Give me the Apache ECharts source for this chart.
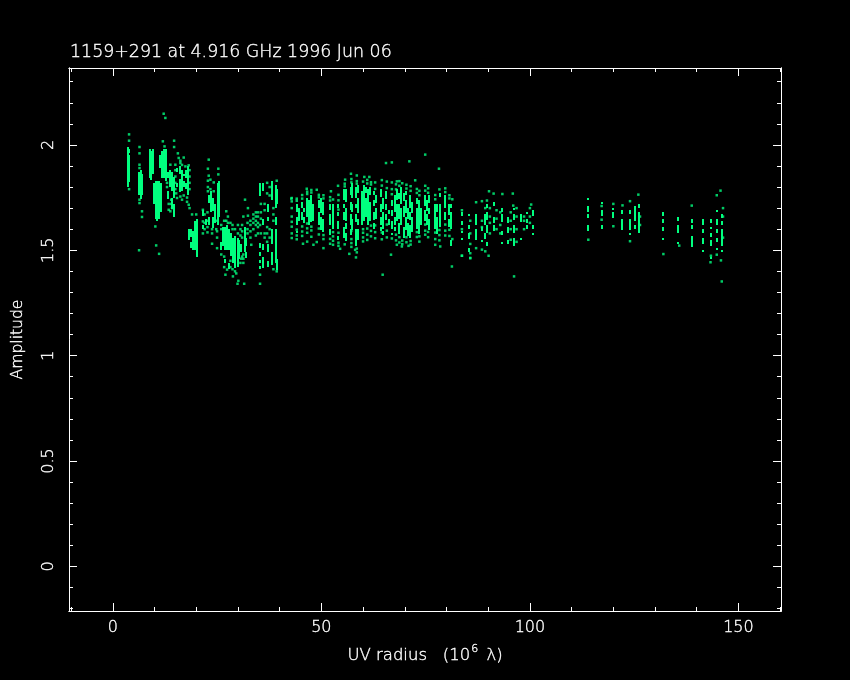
<!DOCTYPE html>
<html><head><meta charset="utf-8">
<style>html,body{margin:0;background:#000}#c{width:850px;height:680px}</style>
<script src="https://cdn.jsdelivr.net/npm/echarts@6/dist/echarts.min.js"></script>
</head><body><div id="c"></div>
<script>
const titleText = '1159+291 at 4.916 GHz 1996 Jun 06';
const xMajor = [0,50,100,150];
const xMinor = [-10,10,20,30,40,60,70,80,90,110,120,130,140,160];
const yMajor = [0,0.5,1,1.5,2];
const yMinor = [-0.2,-0.1,0.1,0.2,0.3,0.4,0.6,0.7,0.8,0.9,1.1,1.2,1.3,1.4,1.6,1.7,1.8,1.9,2.1,2.2,2.3];

// dense vertical streaks of samples: [uv radius, low, high, low, high, ...]
const tracksShort = [
[3.7,1.80,1.99],[4.0,1.82,1.95,1.96,1.98],
[6.3,1.76,1.87],[6.7,1.74,1.88],[7.0,1.76,1.86],
[8.8,1.84,1.98],[9.2,1.83,1.97],[9.6,1.86,1.98],
[9.9,1.72,1.82],[10.3,1.65,1.83],[10.7,1.64,1.83],[11.1,1.65,1.83],[11.5,1.68,1.82],
[11.4,1.89,1.95],[11.9,1.84,1.97],[12.3,1.84,1.98],[12.7,1.83,1.98],
[13.3,1.74,1.78,1.84,1.87],[13.8,1.80,1.88],[14.3,1.70,1.75,1.78,1.87],[14.7,1.66,1.72,1.75,1.85],
[15.5,1.80,1.82,1.87,1.89],[16,1.78,1.84,1.86,1.90],[16.5,1.78,1.88],[17,1.80,1.83,1.85,1.86],[17.5,1.79,1.82,1.84,1.88],[18,1.76,1.90],
[18.2,1.55,1.60],[18.7,1.51,1.54,1.56,1.60],[19.2,1.50,1.59],[19.7,1.50,1.64],[20.1,1.47,1.65],
[21.7,1.60,1.62,1.66,1.69],[22.4,1.62,1.65],
[23.1,1.62,1.66,1.72,1.76],[23.6,1.68,1.78],[24.1,1.61,1.66,1.69,1.75],[24.6,1.63,1.72],[25.2,1.62,1.82],[25.5,1.66,1.83],
[25.9,1.50,1.54],[26.4,1.52,1.61],[26.9,1.50,1.61,1.44,1.46],[27.4,1.50,1.62],[27.9,1.50,1.60,1.41,1.44],
[28.4,1.47,1.58],[28.9,1.44,1.56],[29.4,1.42,1.57],[29.9,1.42,1.56],[30.3,1.46,1.55],[30.8,1.49,1.53],
[31.6,1.49,1.61],[32,1.46,1.49,1.52,1.56],
[35.3,1.76,1.82,1.51,1.535,1.47,1.49,1.44,1.455,1.41,1.425],
[36.1,1.78,1.82,1.62,1.65,1.50,1.53,1.42,1.47],
[37.3,1.64,1.66,1.68,1.72,1.49,1.53,1.42,1.45],
[38.1,1.74,1.83,1.53,1.60,1.43,1.49],
[39.1,1.62,1.66,1.70,1.81,1.44,1.60],[39.4,1.72,1.79,1.41,1.46]
];
const tracksMiddle = [
[44.1,1.62,1.66,1.68,1.72,1.58,1.59],[44.6,1.64,1.70],[45.4,1.64,1.68,1.70,1.73],[45.9,1.63,1.66,1.68,1.70],
[46.6,1.66,1.75],[47.1,1.62,1.74],[47.6,1.63,1.76],[48.1,1.64,1.72],
[49.4,1.62,1.68,1.70,1.74],[49.9,1.60,1.66,1.68,1.75],[50.5,1.59,1.65,1.67,1.73],
[52.1,1.62,1.67,1.69,1.72,1.57,1.60],[52.8,1.60,1.72],[54.1,1.66,1.68,1.60,1.64,1.55,1.57,1.70,1.72],
[55.4,1.64,1.68,1.70,1.72,1.74,1.79,1.56,1.61],[55.8,1.54,1.58,1.60,1.63,1.64,1.70,1.73,1.79],
[57,1.62,1.67,1.69,1.73,1.76,1.80,1.57,1.60],[57.4,1.60,1.65,1.68,1.72,1.75,1.82],
[58.3,1.63,1.67,1.70,1.72,1.75,1.80,1.52,1.60],[58.8,1.55,1.60,1.62,1.65,1.68,1.75,1.77,1.81],
[59.7,1.62,1.78],[60.2,1.64,1.81],[60.7,1.66,1.75,1.77,1.80],[61.2,1.62,1.79],[61.7,1.64,1.73,1.76,1.80],
[62.6,1.60,1.63,1.64,1.68,1.71,1.74,1.76,1.78],[63.1,1.65,1.70,1.72,1.76],[64.3,1.59,1.61,1.62,1.66,1.68,1.72,1.75,1.79],[64.8,1.60,1.68,1.70,1.75,1.57,1.59],
[65.6,1.64,1.67,1.69,1.72,1.74,1.78],[66.1,1.62,1.65,1.67,1.69],[66.9,1.60,1.64,1.66,1.69,1.71,1.74,1.57,1.58],
[67.7,1.59,1.61,1.62,1.66,1.68,1.76],[68.2,1.64,1.72,1.74,1.79],[68.7,1.58,1.63,1.65,1.72,1.74,1.77],[69.2,1.62,1.70,1.72,1.80],[69.7,1.66,1.71,1.73,1.77,1.56,1.61],
[70.2,1.60,1.66,1.68,1.74,1.76,1.78],[70.7,1.57,1.63,1.65,1.70],[71.2,1.56,1.62,1.64,1.68,1.70,1.76],[71.7,1.59,1.66,1.68,1.73],
[72.9,1.60,1.70,1.72,1.75],[73.4,1.58,1.74],[73.8,1.62,1.70],[74.9,1.64,1.69,1.71,1.76],[75.3,1.62,1.67,1.69,1.74],[75.7,1.60,1.65,1.67,1.70,1.72,1.76],
[77.3,1.60,1.72],[77.8,1.58,1.66,1.68,1.72],[78.4,1.61,1.72,1.75,1.77],
[79.7,1.64,1.68,1.70,1.76],[80.6,1.61,1.65,1.67,1.72],[81,1.52,1.55,1.60,1.68,1.70,1.72]
];
const tracksLong = [
[83.7,1.66,1.68,1.62,1.64,1.58,1.59,1.55,1.56],
[85.5,1.66,1.67,1.60,1.62,1.55,1.58,1.49,1.51],
[87.1,1.55,1.60,1.62,1.67],[88.5,1.59,1.61,1.54,1.55],[89.3,1.62,1.67,1.55,1.58],
[89.8,1.58,1.62,1.64,1.68,1.70,1.72,1.52,1.54],[91.5,1.59,1.62,1.63,1.66,1.71,1.73],
[93.4,1.63,1.67,1.68,1.70,1.57,1.59,1.53,1.54],[94.7,1.58,1.61,1.63,1.66,1.53,1.55],
[96.3,1.52,1.56,1.58,1.62,1.64,1.67,1.69,1.70],[97.9,1.63,1.67,1.55,1.56],[99.2,1.60,1.62,1.63,1.65,1.67,1.68],
[100.8,1.66,1.69,1.60,1.62,1.57,1.58],
[114,1.65,1.67,1.68,1.71,1.59,1.62,1.74,1.75],[117.2,1.66,1.69,1.60,1.62,1.72,1.73],
[120,1.65,1.68,1.69,1.70],[122.2,1.60,1.65,1.67,1.69],[124,1.60,1.65,1.57,1.58,1.67,1.69],
[125.2,1.64,1.71,1.60,1.62],[126.2,1.58,1.68,1.70,1.72],
[131.8,1.66,1.68,1.59,1.61,1.63,1.65,1.55,1.56],[135.6,1.58,1.62,1.64,1.66,1.53,1.54],
[138.8,1.52,1.57,1.60,1.62,1.63,1.65],[141.4,1.49,1.50,1.53,1.56,1.58,1.60,1.62,1.65],
[143.3,1.46,1.47,1.52,1.55,1.56,1.58,1.60,1.61,1.63,1.65],[144.8,1.50,1.51,1.54,1.56,1.58,1.60,1.62,1.65,1.68,1.69],
[146,1.52,1.60,1.62,1.64,1.65,1.67,1.49,1.50]
];
// individual samples: [uv radius, amplitude, amplitude, ...]
const dotsShort = [
[3.9,2.05,2.02,1.79],[6.4,1.99,1.96,1.906,1.89,1.74,1.724],[7,1.685,1.658],[6.3,1.50],
[10.2,1.613],[10.4,1.523],[11.1,1.483],[12.2,2.148],[12.6,2.128],[12,2.017],[12.4,1.993],
[14.7,2.02,1.99],[15.6,1.96],[17,1.94,1.76],[15.8,1.938],[13.8,1.906,1.685],[15,1.906,1.88,1.85,1.82,1.79],[16.2,1.914],[17.4,1.898],[18.2,1.903,1.716],
[15.4,1.748],[16.2,1.755,1.925],[16.6,1.74,1.905],[18.4,1.70],[13.4,1.692,1.72],[14.2,1.70],[19,1.67],[20,1.67],[13,1.80,1.82],[14,1.74,1.72],[15.2,1.77],[17.8,1.75,1.73],[18.4,1.88,1.85,1.82,1.79],
[23,1.93,1.854],[22.8,1.887,1.83,1.80,1.78],[25.3,1.887,1.86],[23.4,1.835,1.79],[24.2,1.822,1.78],[21.6,1.692,1.637,1.58],[23.8,1.531,1.60,1.58],[25,1.51,1.56,1.59],
[22,1.67,1.63,1.60],[22.7,1.68,1.64,1.61,1.585],[24.8,1.60,1.64],
[27.2,1.685,1.64],[27.6,1.66,1.63],[26,1.60,1.62,1.48],[26.7,1.64,1.47,1.42],[28.2,1.63,1.45,1.42],[28.7,1.62,1.60,1.41],[29.3,1.60,1.40],[30,1.58,1.62],[30.6,1.60,1.57,1.44],[31,1.62,1.59,1.56,1.47],[30.8,1.46],[31.3,1.44,1.46,1.48,1.66],
[31.7,1.74],[32.4,1.70,1.664],[33.2,1.526],[35.3,1.384,1.341,1.62],[29.9,1.341],[30.1,1.355],[31.5,1.341],[28.8,1.376],[27,1.384],[27.4,1.408],[29.6,1.39],
[32.3,1.63,1.60,1.58],[33,1.64,1.62,1.59,1.56],[33.7,1.67,1.65,1.63,1.60],[34.3,1.68,1.66,1.64,1.62,1.57],[34.8,1.68,1.66,1.63,1.61,1.58],
[35.5,1.72,1.68,1.65,1.58],[36.4,1.72,1.69,1.58,1.56],[37,1.82,1.77,1.61,1.58,1.54],[37.6,1.80,1.76,1.60,1.56],[38.5,1.70,1.67,1.64,1.41],[39.3,1.83,1.40]
];
const dotsMiddle = [
[42.9,1.748,1.732,1.70,1.66,1.635,1.612,1.58,1.558],[44.1,1.745,1.735,1.598,1.57,1.552],
[74.9,1.954],[71.1,1.922],[65.5,1.914],[66.9,1.917],[78.2,1.887],[57.1,1.863],[58.5,1.855],[55.7,1.835],[72.5,1.832],[68.1,1.827,1.526],
[54,1.806],[60.3,1.848],[61.5,1.848],[46.5,1.792],[48.9,1.787,1.539],[52.3,1.78],[42.8,1.745],
[64.7,1.384],[66.7,1.479],[81.3,1.423],[58.3,1.466],[56.7,1.483],[58.1,1.502],[54.5,1.507],[50.5,1.51],[48.1,1.526],[45.6,1.531],
[69.3,1.518],[70.9,1.521],[77.3,1.526],[78.5,1.518],[83.7,1.474],[85.7,1.463,1.486],[87.1,1.51],
[45.4,1.762,1.745,1.613,1.589,1.568],[46.6,1.778,1.767,1.627,1.604,1.583,1.541],[47.6,1.786,1.774,1.612,1.594,1.564],
[49.4,1.763,1.751,1.603,1.575],[50.5,1.761,1.746,1.572,1.553],[52.1,1.752,1.736,1.554,1.531],[52.8,1.741,1.586,1.566,1.545,1.526],
[54.1,1.763,1.737,1.693,1.583,1.536,1.521],[55.6,1.816,1.803,1.528],[57.2,1.838,1.822,1.592,1.553,1.534,1.516],
[58.5,1.828,1.816,1.508,1.49],[60,1.826,1.6,1.583,1.561,1.542],[61,1.834,1.817,1.603,1.574,1.549],[61.9,1.823,1.812,1.617,1.592,1.566],
[62.9,1.822,1.791,1.618,1.586,1.557],[64.5,1.833,1.807,1.584,1.552],[65.7,1.826,1.795,1.622,1.593,1.561],[66.9,1.822,1.79,1.766,1.556],
[67.9,1.813,1.789,1.574,1.547],[68.7,1.828,1.806,1.562,1.537],[69.4,1.818,1.546,1.529],[70.4,1.811,1.793,1.562,1.538],[71.4,1.804,1.782,1.544,1.527],
[72.9,1.791,1.772,1.586,1.563],[73.5,1.782,1.761,1.566,1.541],[74.9,1.806,1.783,1.622,1.593,1.574],[75.6,1.794,1.773,1.587,1.562],
[77.3,1.762,1.742,1.584,1.553],[78.3,1.789,1.596,1.572,1.547],[79.7,1.794,1.776,1.622,1.593,1.57],[80.7,1.761,1.746,1.597,1.568],[81.4,1.742,1.553]
];
const dotsLong = [
[90.2,1.78],[91.3,1.769],[93.4,1.767],[95.9,1.769],[87.1,1.728],[88.5,1.733,1.503,1.64,1.61],[89.7,1.736],[96,1.712],[100.3,1.717],[96.2,1.376],
[83.7,1.474,1.69,1.60],[85.7,1.463,1.64,1.58,1.53],[90.1,1.474],[89.3,1.495,1.70],[126,1.764],[145.7,1.783],[144.8,1.761,1.479],[146,1.352],[132,1.482],[138.8,1.712],
[124,1.733,1.543],[122.2,1.713],[114,1.55],[135.8,1.522],[120,1.614],[143.3,1.443],[145.8,1.452],[143.4,1.474],
[90.4,1.70,1.66,1.63,1.58],[92,1.69,1.65,1.60],[92.9,1.68,1.62,1.58],[95.4,1.68,1.64,1.60,1.55],[96.8,1.70,1.66,1.60,1.54],[98.6,1.66,1.64,1.60],[100,1.70,1.66,1.63],[117.2,1.645,1.71],[120,1.72],[126.4,1.66,1.62],[146.3,1.70,1.66,1.56]
];

const GREEN = '#00ff7f';
const WHITE = '#ffffff';
const FONT = '"DejaVu Sans"';
const streaks = [];
[...tracksShort, ...tracksMiddle, ...tracksLong].forEach(t => {
  for (let i = 1; i < t.length; i += 2) streaks.push([t[0], t[i], t[i+1]]);
});
const points = [];
[...dotsShort, ...dotsMiddle, ...dotsLong].forEach(d => {
  for (let i = 1; i < d.length; i++) points.push([d[0], d[i]]);
});

const txt = {color:WHITE, fontFamily:FONT, fontWeight:200, textBorderColor:WHITE, textBorderWidth:0.35};
const line = {show:true, onZero:false, lineStyle:{color:WHITE, width:1}};
const xBase = {type:'value', min:-10.5, max:160.2, splitLine:{show:false}, axisLine:line, axisLabel:{show:false}};
const yBase = {type:'value', min:-0.212, max:2.365, splitLine:{show:false}, axisLine:line, axisLabel:{show:false}};
const tick = (len, vals) => ({show:true, inside:true, length:len, customValues:vals, lineStyle:{color:WHITE, width:1}});

const chart = echarts.init(document.getElementById('c'), null, {renderer:'canvas'});
chart.setOption({
  backgroundColor:'#000',
  animation:false,
  title:{text:titleText, left:65, top:39, textStyle:{...txt, fontSize:17.4}},
  grid:{left:69, top:68, right:69, bottom:69},
  xAxis:[
    {...xBase, position:'bottom', axisTick:tick(8,xMajor),
      axisLabel:{show:true, customValues:xMajor, ...txt, fontSize:16, margin:9},
      name:'{a|UV radius   (10}{s|6}{a| \u03bb)}', nameLocation:'middle', nameGap:33,
      nameTextStyle:{color:WHITE, rich:{
        a:{...txt, fontSize:16.5, lineHeight:24},
        s:{...txt, fontSize:11, lineHeight:24, verticalAlign:'top', padding:[0,3,0,1]}}}},
    {...xBase, position:'top', axisTick:tick(8,xMajor)},
    {...xBase, position:'bottom', axisTick:tick(4,xMinor)},
    {...xBase, position:'top', axisTick:tick(4,xMinor)}
  ],
  yAxis:[
    {...yBase, position:'left', axisTick:tick(8,yMajor),
      axisLabel:{show:true, customValues:yMajor, rotate:90, ...txt, fontSize:16, margin:12},
      name:'Amplitude', nameLocation:'middle', nameGap:43, nameRotate:90,
      nameTextStyle:{...txt, fontSize:15.6}},
    {...yBase, position:'right', axisTick:tick(8,yMajor)},
    {...yBase, position:'left', axisTick:tick(4,yMinor)},
    {...yBase, position:'right', axisTick:tick(4,yMinor)}
  ],
  series:[
    {type:'custom', xAxisIndex:0, yAxisIndex:0, data:streaks, encode:{x:0, y:[1,2]}, silent:true,
      renderItem:(p, api) => {
        const a = api.coord([api.value(0), api.value(2)]);
        const b = api.coord([api.value(0), api.value(1)]);
        return {type:'rect', shape:{x:Math.round(a[0])-1, y:Math.round(a[1]), width:2, height:Math.max(1, Math.round(b[1]-a[1]))}, style:{fill:GREEN}};
      }},
    {type:'scatter', xAxisIndex:0, yAxisIndex:0, data:points, symbol:'rect', symbolSize:2.5, silent:true, itemStyle:{color:GREEN}}
  ]
});
</script></body></html>
